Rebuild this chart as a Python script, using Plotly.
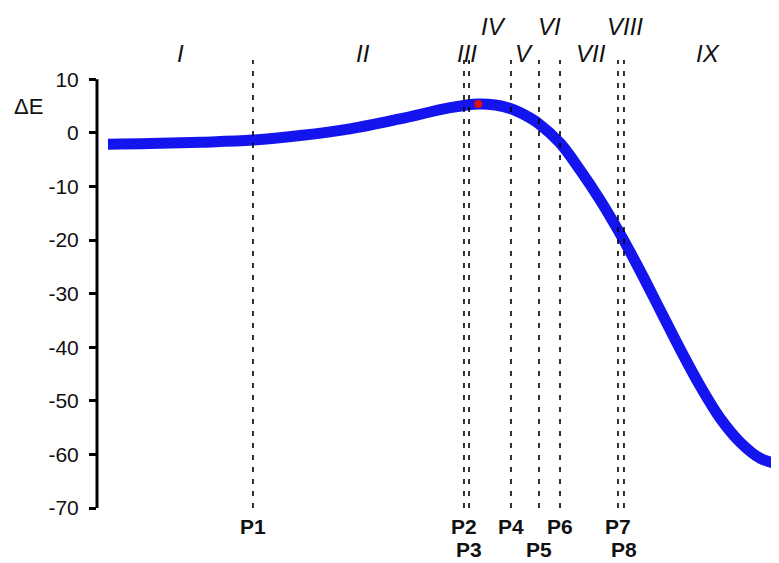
import plotly.graph_objects as go

# Reaction coordinate (arbitrary units, 0..100) and energy profile
coord = [1.61, 7.77, 15.1, 22.87, 29.77, 37.1, 44.4, 51.8, 55.9, 58.4, 60.7,
         62.76, 64.8, 67.89, 70.82, 73.75, 76.69, 79.62, 82.55, 85.48, 88.42,
         91.35, 94.28, 97.21, 100.0, 101.6]
dE = [-2.1, -2.0, -1.75, -1.35, -0.5, 0.75, 2.6, 4.7, 5.4, 5.2, 4.5,
      3.3, 1.7, -1.9, -6.9, -12.5, -18.8, -25.7, -33.0, -40.3, -47.2,
      -53.2, -57.7, -60.7, -61.8, -62.0]

ts_coord = [55.9]
ts_dE = [5.4]

point_labels = ["P1", "P2", "P3", "P4", "P5", "P6", "P7", "P8"]
point_coord = [22.87, 53.81, 54.55, 60.70, 64.81, 67.89, 76.39, 77.27]
point_row = [0, 0, 1, 0, 1, 0, 0, 1]

region_labels = ["I", "II", "III", "IV", "V", "VI", "VII", "VIII", "IX"]
region_coord = [12.3, 39.0, 54.3, 58.1, 62.6, 66.4, 72.4, 77.4, 89.6]
region_row = [0, 0, 0, 1, 0, 1, 0, 1, 0]

y_ticks = [10, 0, -10, -20, -30, -40, -50, -60, -70]
y_tick_text = ["10", "0", "-10", "-20", "-30", "-40", "-50", "-60", "-70"]

FONT = "Liberation Sans, Arial, sans-serif"

fig = go.Figure()
fig.add_trace(go.Scatter(x=coord, y=dE, mode="lines",
                         line=dict(color="#1414EE", width=11, shape="spline"),
                         hoverinfo="skip", showlegend=False))
fig.add_trace(go.Scatter(x=ts_coord, y=ts_dE, mode="markers",
                         marker=dict(color="#E01010", size=8),
                         showlegend=False))

shapes = []
for xc in point_coord:
    shapes.append(dict(type="line", xref="x", yref="paper", x0=xc, x1=xc,
                       y0=0, y1=1, line=dict(color="black", width=1.6, dash="5px,7px")))
# y axis line only from -70 to 10
shapes.append(dict(type="line", xref="paper", yref="y", x0=0, x1=0, y0=-70, y1=10,
                   line=dict(color="black", width=3)))

annotations = []
row_y_top = [1.0156, 1.0737]
for lab, xc, r in zip(region_labels, region_coord, region_row):
    annotations.append(dict(x=xc, y=row_y_top[r], xref="x", yref="paper",
                            text="<i>%s</i>" % lab, showarrow=False,
                            xanchor="center", yanchor="middle",
                            font=dict(family=FONT, size=24, color="#111")))
row_y_bot = [-0.0402, -0.0935]
for lab, xc, r in zip(point_labels, point_coord, point_row):
    annotations.append(dict(x=xc, y=row_y_bot[r], xref="x", yref="paper",
                            text="<b>%s</b>" % lab, showarrow=False,
                            xanchor="center", yanchor="middle",
                            font=dict(family=FONT, size=21, color="#111")))
annotations.append(dict(x=-0.101, y=5.0, xref="paper", yref="y", text="ΔE",
                        showarrow=False, xanchor="center", yanchor="middle",
                        font=dict(family=FONT, size=22, color="#111")))

fig.update_layout(
    width=771, height=555,
    margin=dict(l=89, r=0, t=52, b=55),
    paper_bgcolor="white", plot_bgcolor="white",
    xaxis=dict(range=[0, 100], visible=False),
    yaxis=dict(range=[-70, 13.6], tickvals=y_ticks, ticktext=y_tick_text,
               showgrid=False, zeroline=False,
               showline=False, ticks="outside", ticklen=7, tickwidth=3, tickcolor="black",
               ticklabelstandoff=6,
               tickfont=dict(family=FONT, size=21, color="#111")),
    shapes=shapes, annotations=annotations,
)

fig.write_html("out.html")
